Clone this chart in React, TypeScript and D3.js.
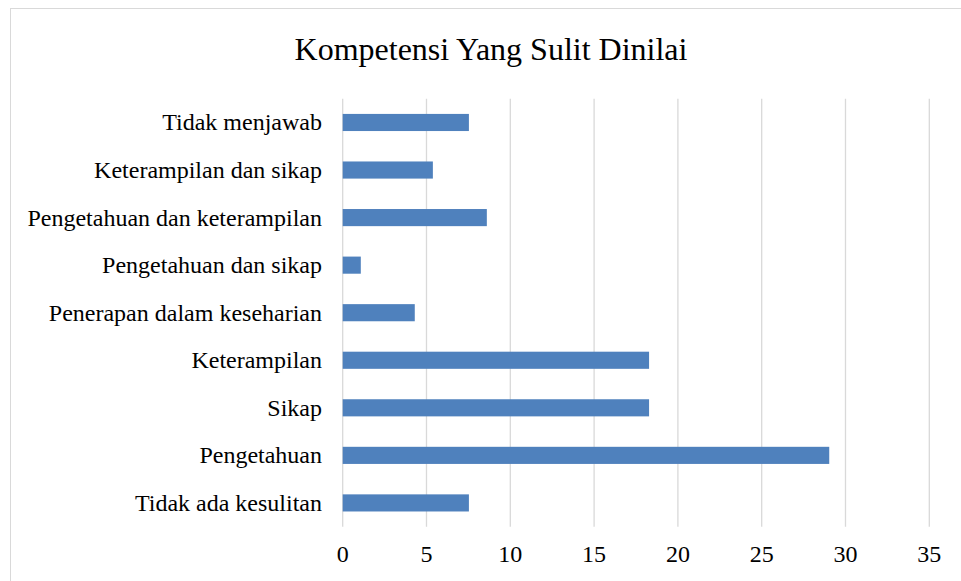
import React from "react";
import * as d3 from "d3";

const categories = [
  "Tidak menjawab",
  "Keterampilan dan sikap",
  "Pengetahuan dan keterampilan",
  "Pengetahuan dan sikap",
  "Penerapan dalam keseharian",
  "Keterampilan",
  "Sikap",
  "Pengetahuan",
  "Tidak ada kesulitan",
];
const values = [7.53, 5.38, 8.6, 1.08, 4.3, 18.28, 18.28, 29.03, 7.53];
const xTicks = [0, 5, 10, 15, 20, 25, 30, 35];
const title = "Kompetensi Yang Sulit Dinilai";

const W = 961;
const H = 581;
const FONT = "'Liberation Serif', 'Times New Roman', serif";

export default function App() {
  const x = d3.scaleLinear().domain([0, 35]).range([342.7, 929.3]);
  const y = d3.scaleBand<string>().domain(categories).range([98.7, 526.7]).paddingInner(0.64).paddingOuter(0.32);

  return (
    <svg
      width={W}
      height={H}
      style={{ position: "absolute", left: 0, top: 0, background: "#fff" }}
      fontFamily={FONT}
    >
      <rect x={10.5} y={8.5} width={1000} height={1000} fill="#fff" stroke="#d9d9d9" strokeWidth={1} />
      <text x={491} y={60} textAnchor="middle" fontSize={32} fill="#000">
        {title}
      </text>
      {xTicks.map((t) => (
        <line key={"g" + t} x1={x(t)} x2={x(t)} y1={98.7} y2={526.7} stroke="#d9d9d9" strokeWidth={1.3} />
      ))}
      {categories.map((c, i) => (
        <rect
          key={c}
          x={x(0)}
          y={y(c)}
          width={x(values[i]) - x(0)}
          height={y.bandwidth()}
          fill="#4f81bd"
        />
      ))}
      {categories.map((c) => (
        <text
          key={"l" + c}
          x={322}
          y={(y(c) as number) + y.bandwidth() / 2}
          dy="0.33em"
          textAnchor="end"
          fontSize={24}
          fill="#000"
        >
          {c}
        </text>
      ))}
      {xTicks.map((t) => (
        <text key={"t" + t} x={x(t)} y={561.5} textAnchor="middle" fontSize={24} fill="#000">
          {t}
        </text>
      ))}
    </svg>
  );
}
